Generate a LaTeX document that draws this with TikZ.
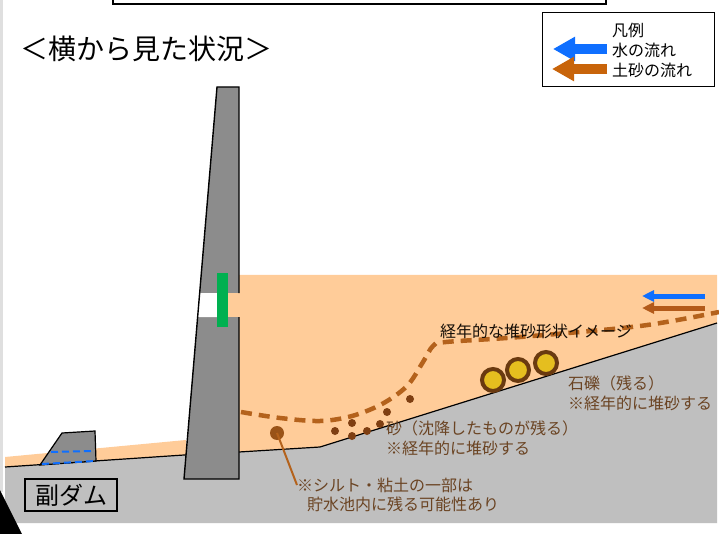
\documentclass[tikz,border=0pt]{standalone}
\usepackage{fontspec}
\setmainfont{Noto Sans CJK JP}
\usetikzlibrary{arrows.meta, positioning}

\definecolor{groundgray}{HTML}{BFBFBF}
\definecolor{damgray}{HTML}{8C8C8C}
\definecolor{water}{HTML}{FFCC99}
\definecolor{sedbrown}{HTML}{B4621C}
\definecolor{dotbrown}{HTML}{7F3F12}
\definecolor{labelbrown}{HTML}{6B4423}
\definecolor{gravelring}{HTML}{6A3A10}
\definecolor{gravelfill}{HTML}{E5BE1F}
\definecolor{flowblue}{HTML}{0F6FFF}
\definecolor{flowbrown}{HTML}{C8640A}
\definecolor{riverbrown}{HTML}{B35A1A}
\definecolor{gate}{HTML}{00B050}

\begin{document}
\begin{tikzpicture}[
      x=1pt, y=-1pt,
      outline/.style={
          draw=black,
          line width=1.4pt
        },
      groundline/.style={
          draw=black,
          line width=1.2pt
        },
      sediment/.style={
          draw=sedbrown,
          line width=4.5pt,
          dash pattern=on 11pt off 7pt
        },
      sanddot/.style={
          circle,
          fill=dotbrown,
          inner sep=0pt,
          minimum size=8pt
        },
      gravel/.style={
          circle,
          draw=gravelring,
          fill=gravelfill,
          line width=4pt,
          inner sep=0pt,
          minimum size=22pt
        },
      note/.style={
          anchor=west,
          text=labelbrown,
          font=\fontsize{16}{20}\selectfont,
          inner sep=0pt,
          align=left
        },
      legendtext/.style={
          anchor=west,
          font=\fontsize{16}{20}\selectfont,
          inner sep=0pt
        },
      bigflow/.style={
          line width=10pt,
          -{Triangle[length=22pt,width=23pt]}
        },
      smallflow/.style={
          line width=5pt,
          -{Triangle[length=12pt,width=11pt]}
        }
    ]

    \useasboundingbox (0,0) rectangle (719,534);
    \fill[white] (0,0) rectangle (719,534);

    % page edge
    \draw[gray!25, line width=3pt] (1.5,0) -- (1.5,492);

    % header frame and title
    \draw[outline, fill=white] (113,-10) rectangle (606,4);
    \node[anchor=west, inner sep=0pt, font=\fontsize{28}{30}\selectfont] (title) at (20,49) {＜横から見た状況＞};

    % legend
    \draw[draw=black, line width=1pt, fill=white] (542,13) rectangle (714,87);
    \node[legendtext] (leg_head) at (612,30) {凡例};
    \node[legendtext] (leg_water) at (612,50) {水の流れ};
    \node[legendtext] (leg_sed) at (612,70) {土砂の流れ};
    \coordinate (lw_start) at (607,49);
    \coordinate (lw_end) at (553,49);
    \coordinate (ls_start) at (607,69);
    \coordinate (ls_end) at (552,69);
    \draw[bigflow, flowblue] (lw_start) -- (lw_end);
    \draw[bigflow, flowbrown] (ls_start) -- (ls_end);

    % downstream deposit and ground
    \fill[water] (5,457) -- (186,440) -- (186,455) -- (5,467) -- cycle;
    \fill[groundgray] (5,467) -- (184,455) -- (239,452) -- (320,447)
        -- (717,323) -- (717,523) -- (5,523) -- cycle;

    % reservoir
    \fill[water] (239,275) -- (717,275) -- (717,323) -- (320,447)
        -- (239,452) -- cycle;

    \draw[groundline] (5,467) -- (184,455) -- (239,452) -- (320,447) -- (717,323);

    % sub dam
    \draw[outline, fill=damgray, line width=1.2pt] (40,465) -- (62,433) -- (95,431) -- (96,461) -- cycle;
    \draw[flowblue, line width=2pt, dash pattern=on 7pt off 4pt] (51,452) -- (93,451);
    \draw[flowblue, line width=2pt, dash pattern=on 7pt off 4pt] (42,464) -- (95,461);
    \node[draw=black, line width=1.4pt, minimum width=92pt, minimum height=32pt,
          inner sep=0pt, font=\fontsize{24}{26}\selectfont] (subdam) at (71,495) {副ダム};

    % main dam
    \fill[damgray] (217,87) -- (239,87) -- (239,479) -- (184,479) -- cycle;
    \fill[white] (199.7,293) -- (217,293) -- (217,317) -- (197.6,317) -- cycle;
    \fill[water] (228,293) rectangle (240,317);
    \fill[gate] (217,273) rectangle (228,327);
    \draw[outline] (239,293) -- (239,87) -- (217,87) -- (184,479) -- (239,479) -- (239,317);

    % inflow
    \coordinate (rw_start) at (705,296);
    \coordinate (rw_end) at (642,296);
    \coordinate (rs_start) at (705,308);
    \coordinate (rs_end) at (642,308);
    \draw[smallflow, flowblue] (rw_start) -- (rw_end);
    \draw[smallflow, riverbrown] (rs_start) -- (rs_end);

    % long-term sediment profile
    \draw[sediment] plot[smooth, tension=0.55] coordinates {
        (241,412) (280,418) (320,421) (352,416) (382,404) (407,386)
        (423,362) (433,346) (446,342) (520,337) (640,326) (719,312)};
    \node[note, text=black!80!labelbrown] (profile_lbl) at (440,331) {経年的な堆砂形状イメージ};

    % gravel
    \node[gravel] (g1) at (493,380) {};
    \node[gravel] (g2) at (518,370) {};
    \node[gravel] (g3) at (546,363) {};
    \node[note, anchor=north west] (gravel_lbl) at (568,376) {石礫（残る）\\※経年的に堆砂する};

    % sand
    \foreach \px/\py in {335/431, 352/423, 352/436, 367/431, 380/424, 387/412, 410/399}
      \node[sanddot] at (\px,\py) {};
    \node[note, anchor=north west] (sand_lbl) at (386,421) {砂（沈降したものが残る）\\※経年的に堆砂する};

    % silt and clay
    \node[sanddot, fill=sedbrown!85!black, minimum size=14pt] (silt) at (277,433) {};
    \node[note] (silt_lbl) at (297,485) {※シルト・粘土の一部は};
    \node[note] (silt_lbl2) at (307,504) {貯水池内に残る可能性あり};
    \draw[sedbrown, line width=2pt] (silt.center) -- (silt_lbl.west);

    % corner wedge
    \fill[black] (0,490) -- (22,534) -- (0,534) -- cycle;
  \end{tikzpicture}
\end{document}
